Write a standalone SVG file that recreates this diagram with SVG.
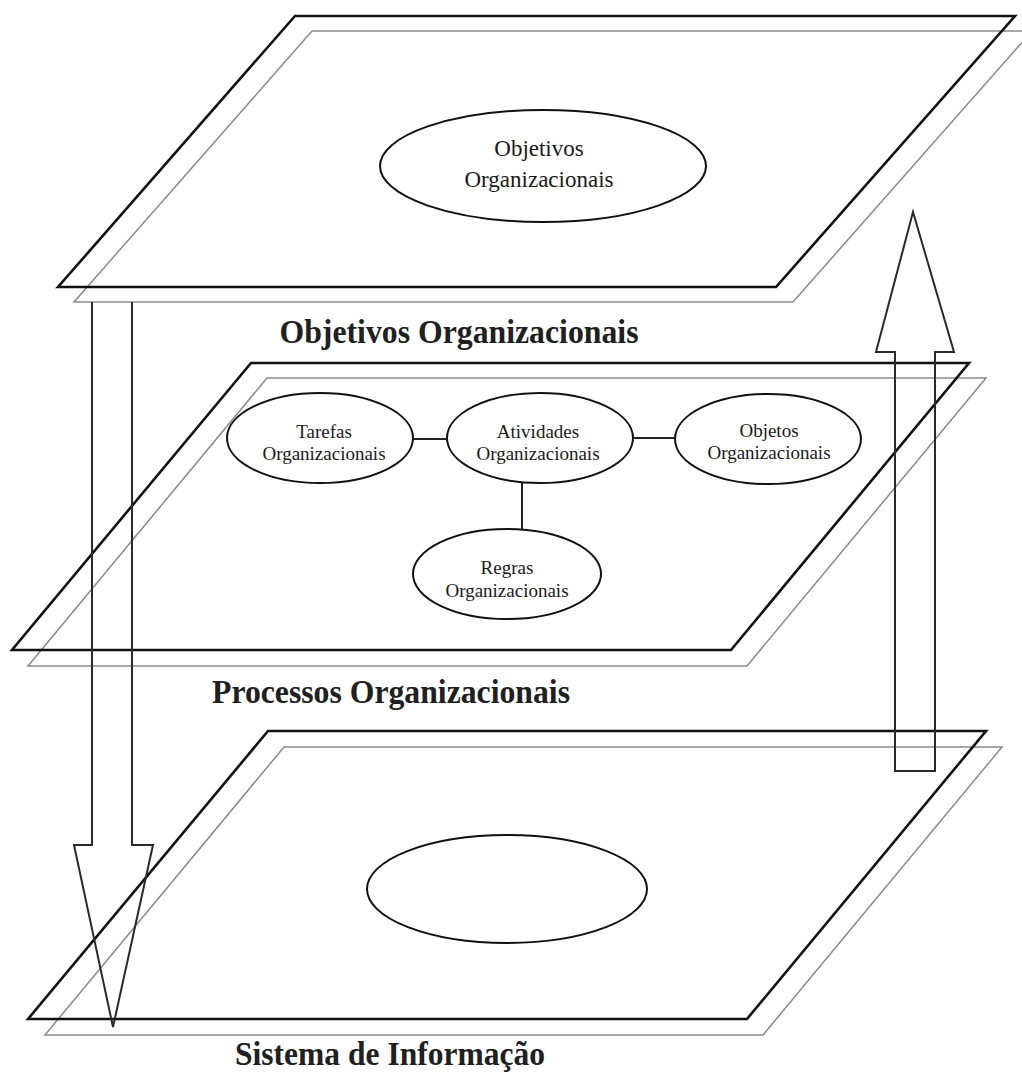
<svg xmlns="http://www.w3.org/2000/svg" width="1022" height="1073" viewBox="0 0 1022 1073">
  <style>
    .plane { fill: none; stroke: #111; stroke-width: 2.6; stroke-linejoin: miter; }
    .shadow { fill: none; stroke: #8a8a8a; stroke-width: 1.5; }
    .node { fill: none; stroke: #111; stroke-width: 2; }
    .link { fill: none; stroke: #222; stroke-width: 2; }
    .arrow { fill: none; stroke: #2a2a2a; stroke-width: 2; stroke-linejoin: miter; }
    .t { font-family: "Liberation Serif", "Times New Roman", serif; fill: #1a1a1a; text-anchor: middle; }
    .big { font-size: 23px; }
    .small { font-size: 19px; }
    .label { font-size: 33px; font-weight: bold; fill: #202020; }
  </style>
  <rect width="1022" height="1073" fill="#ffffff"/>

  <!-- layer planes: offset grey outline behind, black outline in front -->
  <g id="plane-objetivos">
    <polygon class="shadow" points="312,31 1032,31 793,302 74,302"/>
    <polygon class="plane" points="295,16 1015,16 776,287 58,287"/>
  </g>
  <g id="plane-processos">
    <polygon class="shadow" points="267,378 986,378 747,666 28,666"/>
    <polygon class="plane" points="251,363 969,363 731,650 12,650"/>
  </g>
  <g id="plane-sistema">
    <polygon class="shadow" points="284,747 1002,747 763,1035 45,1035"/>
    <polygon class="plane" points="268,731 986,731 747,1019 28,1019"/>
  </g>

  <!-- layer captions -->
  <text class="t label" x="459" y="343" textLength="359" lengthAdjust="spacingAndGlyphs">Objetivos Organizacionais</text>
  <text class="t label" x="391" y="703" textLength="358" lengthAdjust="spacingAndGlyphs">Processos Organizacionais</text>
  <text class="t label" x="390" y="1065" textLength="310" lengthAdjust="spacingAndGlyphs">Sistema de Informação</text>

  <!-- nodes -->
  <g id="objetivos">
    <ellipse class="node" cx="543" cy="166" rx="163" ry="56"/>
    <text class="t big" x="539" y="156">Objetivos</text>
    <text class="t big" x="539" y="187">Organizacionais</text>
  </g>
  <g id="tarefas">
    <ellipse class="node" cx="320" cy="438" rx="93" ry="45"/>
    <text class="t small" x="324" y="438">Tarefas</text>
    <text class="t small" x="324" y="460">Organizacionais</text>
  </g>
  <g id="atividades">
    <ellipse class="node" cx="540" cy="438" rx="93" ry="45"/>
    <text class="t small" x="538" y="438">Atividades</text>
    <text class="t small" x="538" y="460">Organizacionais</text>
  </g>
  <g id="objetos">
    <ellipse class="node" cx="768" cy="439" rx="93" ry="45"/>
    <text class="t small" x="769" y="437">Objetos</text>
    <text class="t small" x="769" y="459">Organizacionais</text>
  </g>
  <g id="regras">
    <ellipse class="node" cx="507" cy="574" rx="94" ry="45"/>
    <text class="t small" x="507" y="574">Regras</text>
    <text class="t small" x="507" y="597">Organizacionais</text>
  </g>
  <g id="sistema">
    <ellipse class="node" cx="507" cy="889" rx="140" ry="54"/>
  </g>

  <!-- connectors -->
  <g id="connectors">
    <line class="link" x1="413" y1="439" x2="447" y2="439"/>
    <line class="link" x1="633" y1="438" x2="675" y2="438"/>
    <line class="link" x1="522" y1="483" x2="522" y2="529"/>
    <!-- downward block arrow -->
    <path class="arrow" d="M92,302 V845 H74 L113,1027 L153,845 H132 V302"/>
    <!-- upward block arrow -->
    <path class="arrow" d="M895,771 V352 H876 L913,212 L954,352 H935 V771 Z"/>
  </g>
</svg>
